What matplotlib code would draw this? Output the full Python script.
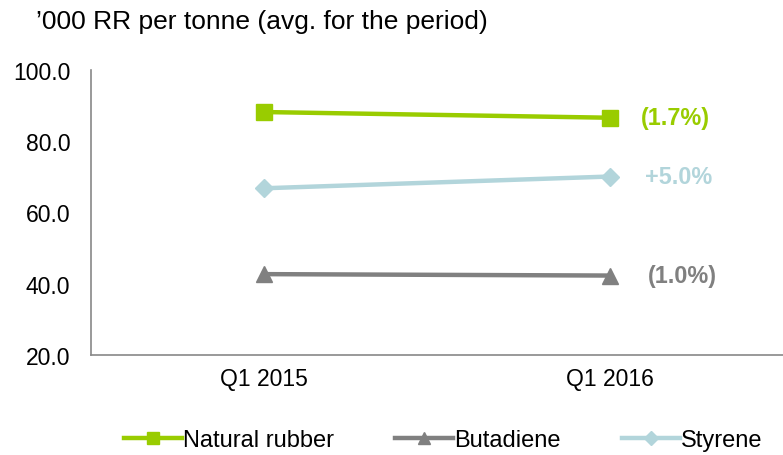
import matplotlib
matplotlib.use("Agg")
import matplotlib.pyplot as plt

plt.rcParams['font.family'] = ['Liberation Sans', 'DejaVu Sans']

categories = ["Q1 2015", "Q1 2016"]
natural_rubber = [88.2, 86.6]
butadiene = [42.7, 42.3]
styrene = [66.8, 70.1]
changes = ["(1.7%)", "(1.0%)", "+5.0%"]
series_names = ["Natural rubber", "Butadiene", "Styrene"]
y_ticks = [20, 40, 60, 80, 100]

colors = ["#99CC00", "#808080", "#B2D5DB"]
markers = ["s", "^", "D"]
msizes = [12, 12, 9]
label_offsets = [22, 27, 25]

fig = plt.figure(figsize=(7.83, 4.56), dpi=100)
ax = fig.add_axes([0.1162, 0.2193, 0.8838, 0.625])

x = list(range(len(categories)))
series = [natural_rubber, butadiene, styrene]
for vals, name, c, m, ms, lab, off in zip(series, series_names, colors, markers, msizes, changes, label_offsets):
    ax.plot(x, vals, color=c, lw=3.2, marker=m, markersize=ms, label=name)
    ax.annotate(lab, xy=(x[-1], vals[-1]), xytext=(off, 0), textcoords="offset points",
                ha="left", va="center", color=c, fontsize=16.8, fontweight="bold")

ax.set_xlim(-0.5, 1.5)
ax.set_ylim(20, 100)
ax.set_yticks(y_ticks)
ax.set_yticklabels([f"{v:.1f}" for v in y_ticks], fontsize=16.5)
ax.set_xticks(x)
ax.set_xticklabels(categories, fontsize=16.5)
ax.tick_params(axis='y', length=0, pad=15)
ax.tick_params(axis='x', length=0, pad=9)
for s in ["top", "right"]:
    ax.spines[s].set_visible(False)
for s in ["left", "bottom"]:
    ax.spines[s].set_color("#888888")
    ax.spines[s].set_linewidth(1.2)

fig.text(0.046, 0.952, "\u2019000 RR per tonne (avg. for the period)", fontsize=19, ha="left", va="center")

leg = fig.legend(loc="center", bbox_to_anchor=(0.566, 0.032), ncol=3, frameon=False,
                 fontsize=17, handlelength=2.45, columnspacing=2.6, handletextpad=0.05,
                 markerscale=0.75)

fig.savefig("out.png", dpi=100)
